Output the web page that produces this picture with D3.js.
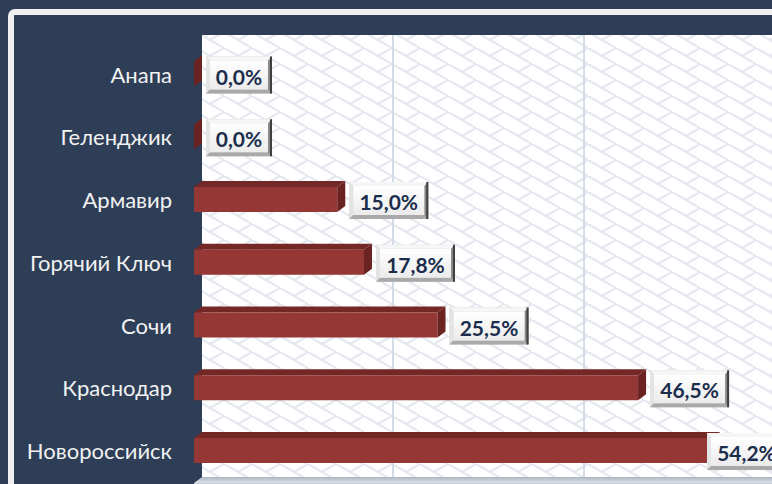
<!DOCTYPE html>
<html>
<head>
<meta charset="utf-8">
<script src="https://cdn.jsdelivr.net/npm/d3@7"></script>
<style>
  html, body { margin: 0; padding: 0; background: #2e3e57; }
  svg { display: block; }
</style>
</head>
<body>
<svg id="chart" width="772" height="484"></svg>
<script>
// Share by city, percent
const categories = ["Анапа", "Геленджик", "Армавир", "Горячий Ключ", "Сочи", "Краснодар", "Новороссийск"];
const values = [0.0, 0.0, 15.0, 17.8, 25.5, 46.5, 54.2];
const gridTicks = [0, 20, 40, 60];

const W = 772, H = 484;
const navy = "#2e3e57";
const depthX = 8, depthY = -6;       // 3D offset of the back wall
const barH = 25;

const svg = d3.select("#chart");
const defs = svg.append("defs");

// woven lattice texture of the back wall
const pat = defs.append("pattern")
  .attr("id", "weave").attr("patternUnits", "userSpaceOnUse")
  .attr("width", 28).attr("height", 16);
pat.append("rect").attr("width", 28).attr("height", 16).attr("fill", "#ffffff");
pat.append("path")
  .attr("d", "M-14,-8 L14,8 M0,0 L28,16 M14,8 L42,24 M14,-8 L0,0 M28,0 L14,8 M14,24 L28,16")
  .attr("stroke", "#e5e9ef").attr("stroke-width", 2.2).attr("fill", "none");

const inner = defs.append("linearGradient").attr("id", "boxFill")
  .attr("x1", 0).attr("y1", 0).attr("x2", 0).attr("y2", 1);
inner.append("stop").attr("offset", "0%").attr("stop-color", "#ffffff");
inner.append("stop").attr("offset", "100%").attr("stop-color", "#ebebeb");

const floorG = defs.append("linearGradient").attr("id", "floorFill")
  .attr("x1", 0).attr("y1", 0).attr("x2", 0).attr("y2", 1);
floorG.append("stop").attr("offset", "0%").attr("stop-color", "#aab4c2");
floorG.append("stop").attr("offset", "100%").attr("stop-color", "#dfe3e9");

// background and framed chart area
svg.append("rect").attr("width", W).attr("height", H).attr("fill", navy);
svg.append("rect")
  .attr("x", 11).attr("y", 12).attr("width", 820).attr("height", 520).attr("rx", 4)
  .attr("fill", navy).attr("stroke", "#f0f0f0").attr("stroke-width", 6);

// scales
const x = d3.scaleLinear().domain([0, 60]).range([194, 194 + 573]);
const y = d3.scalePoint().domain(categories).range([74, 450.5]);

const wallTop = 35, floorY = 477;

// back wall
svg.append("rect")
  .attr("x", x(0) + depthX).attr("y", wallTop)
  .attr("width", W).attr("height", floorY - wallTop)
  .attr("fill", "url(#weave)");

// vertical gridlines on the wall
svg.append("g").selectAll("line")
  .data(gridTicks.filter(t => t > 0))
  .join("line")
  .attr("x1", d => x(d) + depthX).attr("x2", d => x(d) + depthX)
  .attr("y1", wallTop).attr("y2", floorY)
  .attr("stroke", "#d3dbe6").attr("stroke-width", 2);

// floor
svg.append("path")
  .attr("d", `M${x(0) + depthX},${floorY} L${W + 20},${floorY} L${W + 20},${floorY - depthY} L${x(0)},${floorY - depthY} Z`)
  .attr("fill", "url(#floorFill)");
svg.append("rect")
  .attr("x", x(0)).attr("y", floorY - depthY).attr("width", W).attr("height", 4)
  .attr("fill", "#c4ccd6");

// bars
const rows = categories.map((c, i) => ({ cat: c, v: values[i] }));
const bars = svg.append("g").selectAll("g").data(rows).join("g");

bars.append("path")  // top face
  .attr("d", d => {
    const x0 = x(0), x1 = x(d.v), t = y(d.cat) - barH / 2;
    return `M${x0},${t} L${x0 + depthX},${t + depthY} L${x1 + depthX},${t + depthY} L${x1},${t} Z`;
  })
  .attr("fill", "#742826");
bars.append("rect")  // front face
  .attr("x", x(0)).attr("y", d => y(d.cat) - barH / 2)
  .attr("width", d => x(d.v) - x(0)).attr("height", barH)
  .attr("fill", "#953735");
bars.append("path")  // end face
  .attr("d", d => {
    const x1 = x(d.v), t = y(d.cat) - barH / 2, b = t + barH;
    return `M${x1},${t} L${x1 + depthX},${t + depthY} L${x1 + depthX},${b + depthY} L${x1},${b} Z`;
  })
  .attr("fill", "#6a2321");

// category labels
svg.append("g").selectAll("text")
  .data(categories)
  .join("text")
  .attr("x", 172).attr("y", d => y(d))
  .attr("text-anchor", "end").attr("dominant-baseline", "central")
  .attr("font-family", "Lato, 'Noto Sans', sans-serif").attr("font-size", 22)
  .attr("fill", "#f2f2f2")
  .text(d => d);

// value labels in bevelled boxes
const fmt = v => d3.format(".1f")(v).replace(".", ",") + "%";
const boxH = 37, bev = 4, chartRight = 786;
const labels = svg.append("g").selectAll("g").data(rows).join("g");

labels.each(function (d) {
  const g = d3.select(this);
  const txt = g.append("text")
    .attr("font-family", "Lato, 'Noto Sans', sans-serif")
    .attr("font-weight", "bold").attr("font-size", 21)
    .attr("fill", "#1b2d4d")
    .attr("text-anchor", "middle").attr("dominant-baseline", "central")
    .text(fmt(d.v));
  const tw = txt.node().getComputedTextLength();
  const w = Math.round(tw + 20);
  const bx = Math.min(x(d.v) + 12, chartRight - w);
  const by = y(d.cat) - boxH / 2 + 1;
  const b = bev, h = boxH;
  g.insert("rect", "text").attr("x", bx).attr("y", by).attr("width", w).attr("height", h).attr("fill", "#cfcfcf");
  g.insert("path", "text").attr("d", `M${bx},${by} L${bx + w},${by} L${bx + w - b},${by + b} L${bx + b},${by + b} Z`).attr("fill", "#f6f6f6");
  g.insert("path", "text").attr("d", `M${bx},${by} L${bx + b},${by + b} L${bx + b},${by + h - b} L${bx},${by + h} Z`).attr("fill", "#e4e4e4");
  g.insert("path", "text").attr("d", `M${bx},${by + h} L${bx + b},${by + h - b} L${bx + w - b},${by + h - b} L${bx + w},${by + h} Z`).attr("fill", "#a9a9a9");
  g.insert("path", "text").attr("d", `M${bx + w},${by} L${bx + w - b},${by + b} L${bx + w - b},${by + h - b} L${bx + w},${by + h} Z`).attr("fill", "#8a8a8a");
  g.insert("rect", "text").attr("x", bx + w - 2).attr("y", by).attr("width", 2).attr("height", h).attr("fill", "#3f3f3f");
  g.insert("rect", "text").attr("x", bx + b).attr("y", by + b).attr("width", w - 2 * b).attr("height", h - 2 * b).attr("fill", "url(#boxFill)");
  txt.attr("x", bx + w / 2).attr("y", by + h / 2 + 1);
});
</script>
</body>
</html>
